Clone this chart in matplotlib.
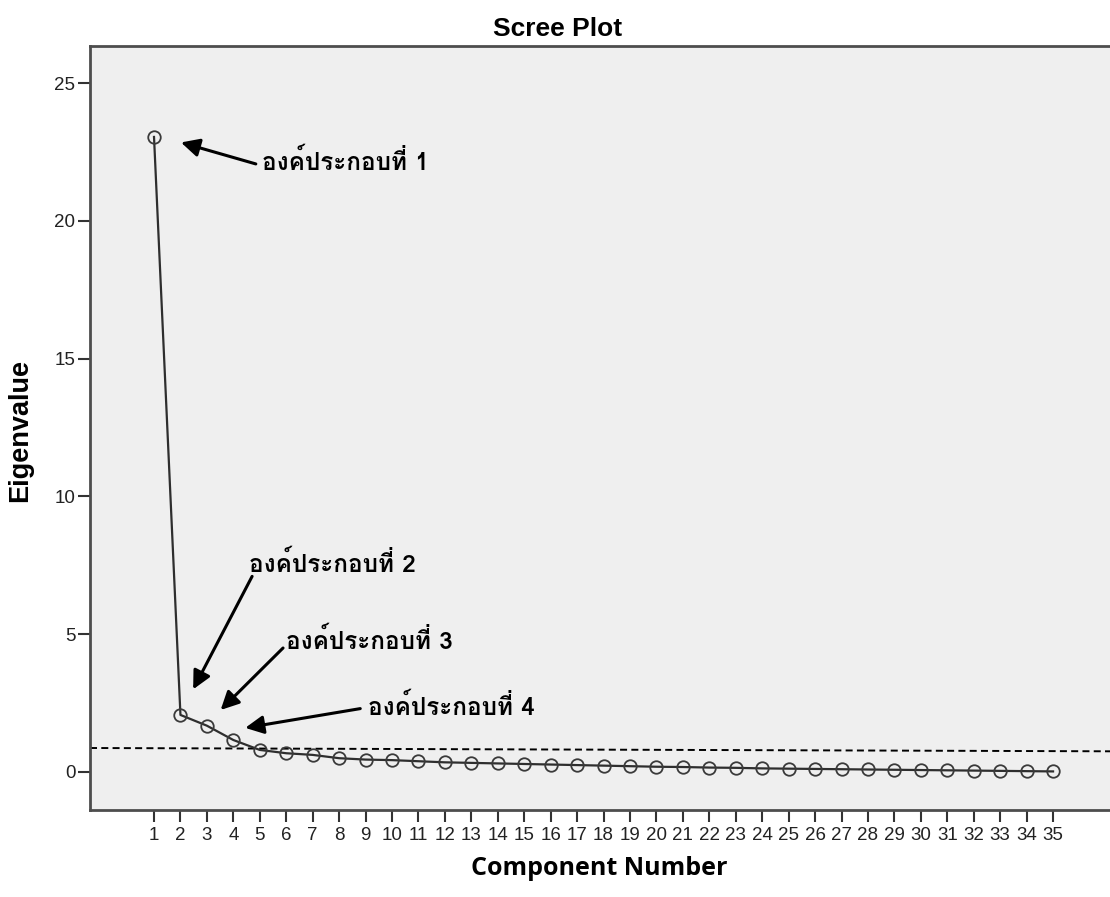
import matplotlib
matplotlib.use("Agg")
import matplotlib.pyplot as plt
from matplotlib import font_manager
from fontTools.ttLib import TTFont

# scree plot values
components = list(range(1, 36))
eigenvalues = [23.05, 2.07, 1.68, 1.16, 0.80, 0.68, 0.62, 0.50, 0.45, 0.43,
               0.39, 0.35, 0.33, 0.31, 0.29, 0.27, 0.25, 0.23, 0.21, 0.19,
               0.18, 0.16, 0.15, 0.13, 0.12, 0.11, 0.10, 0.09, 0.08, 0.07,
               0.06, 0.05, 0.04, 0.03, 0.02]
y_ticks = [0, 5, 10, 15, 20, 25]
cutoff = [0.87, 0.75]   # dashed reference line, left and right end

labels = ["องค์ประกอบที่ 1", "องค์ประกอบที่ 2", "องค์ประกอบที่ 3", "องค์ประกอบที่ 4"]
arrow_tips = [(2.02, 22.85), (2.48, 3.0), (3.52, 2.25), (4.45, 1.6)]
arrow_tails = [(4.85, 22.07), (4.71, 7.1), (5.88, 4.5), (8.8, 2.3)]
text_pos = [(5.1, 22.15), (4.6, 7.55), (6.0, 4.75), (9.1, 2.35)]

# find a font that has Thai glyphs
thai_font = "DejaVu Sans"
for f in font_manager.fontManager.ttflist:
    try:
        cmap = TTFont(f.fname, fontNumber=0, lazy=True).getBestCmap()
    except Exception:
        continue
    if cmap and ord("อ") in cmap and ord("ค") in cmap:
        thai_font = f.name
        break

fig = plt.figure(figsize=(11.1, 8.97), dpi=100)
ax = fig.add_axes([0.0811, 0.097, 0.92, 0.852])
ax.set_facecolor("#efefef")

ax.plot(components, eigenvalues, color="#2e2e2e", lw=1.6, marker="o",
        markersize=9, markerfacecolor="none", markeredgecolor="#3a3a3a",
        markeredgewidth=1.3, zorder=3)

xmin, xmax = -1.42, 37.2
ax.plot([xmin, xmax], cutoff, color="black", lw=1.4, ls=(0, (3.6, 2.2)), zorder=2)

ax.set_xlim(xmin, xmax)
ax.set_ylim(-1.38, 26.36)
ax.set_xticks(components)
ax.set_yticks(y_ticks)

for s in ["left", "top", "bottom"]:
    ax.spines[s].set_color("#4d4d4d")
    ax.spines[s].set_linewidth(2)
ax.spines["right"].set_visible(False)
ax.tick_params(axis="both", length=8.5, width=1.5, color="#333333",
               labelcolor="#222222", labelsize=13.5,
               labelfontfamily="Liberation Sans")
ax.tick_params(axis="x", pad=4)
ax.tick_params(axis="y", pad=2)

for lab, tip, tail, pos in zip(labels, arrow_tips, arrow_tails, text_pos):
    ax.annotate("", xy=tip, xytext=tail,
                arrowprops=dict(arrowstyle="-|>,head_length=1.1,head_width=0.55",
                                color="black", lw=2.2, shrinkA=0, shrinkB=0))
    ax.text(pos[0], pos[1], lab, family=[thai_font, "DejaVu Sans"],
            fontweight="bold", fontsize=17.5, ha="left", va="center")

fig.text(0.502, 0.968, "Scree Plot", family="Liberation Sans", fontweight="bold",
         fontsize=19, ha="center", va="center")
fig.text(0.54, 0.032, "Component Number", family="Open Sans", fontweight="bold",
         fontsize=18, ha="center", va="center")
fig.text(0.018, 0.52, "Eigenvalue", family="Liberation Sans", fontweight="bold",
         fontsize=19.5, ha="center", va="center", rotation=90)

fig.savefig("out.png", dpi=100)
